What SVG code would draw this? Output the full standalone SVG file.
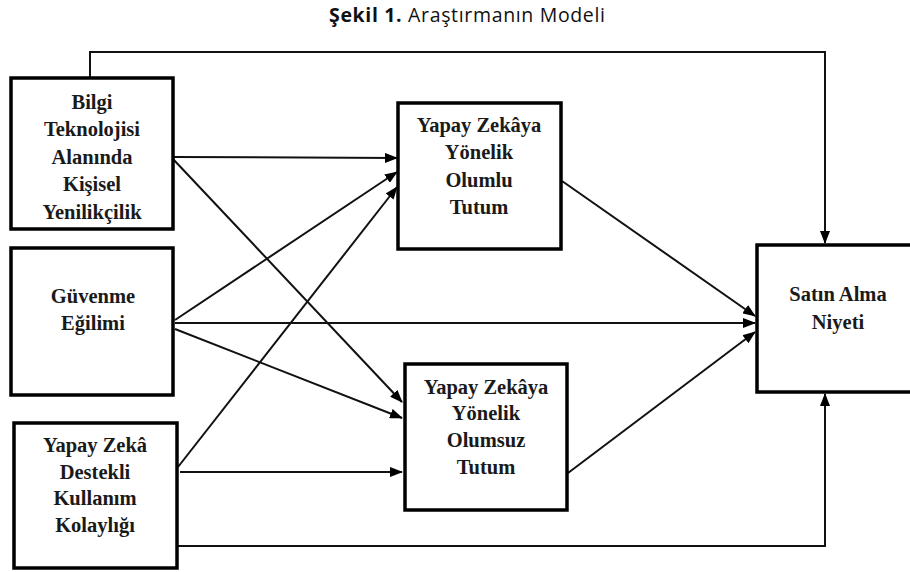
<svg xmlns="http://www.w3.org/2000/svg" width="910" height="572" viewBox="0 0 910 572">
<style>
.box{fill:#fff;stroke:#000;stroke-width:3.5}
.lbl{font-family:"Liberation Serif","Times New Roman",serif;font-weight:bold;font-size:20.5px;fill:#1a1a1a;text-anchor:middle}
.ln{fill:none;stroke:#111;stroke-width:2}
.title{font-family:"Open Sans","Liberation Sans",sans-serif;font-size:19.5px;fill:#111;text-anchor:middle}
</style>
<defs>
<marker id="ah" markerUnits="userSpaceOnUse" markerWidth="13" markerHeight="10" refX="12" refY="5" orient="auto">
<path d="M0,0 L13,5 L0,10 z" fill="#000"/>
</marker>
</defs>
<rect width="910" height="572" fill="#fff"/>
<text class="title" x="467" y="22" textLength="276"><tspan font-weight="bold">Şekil 1.</tspan> Araştırmanın Modeli</text>

<g id="connectors">
<polyline class="ln" points="90,78 90,52 825,52 825,243" marker-end="url(#ah)"/>
<polyline class="ln" points="177,546 825,546 825,394" marker-end="url(#ah)"/>
<line class="ln" x1="173" y1="157" x2="397" y2="158" marker-end="url(#ah)"/>
<line class="ln" x1="173" y1="159" x2="402" y2="402" marker-end="url(#ah)"/>
<line class="ln" x1="175" y1="320" x2="397" y2="172" marker-end="url(#ah)"/>
<line class="ln" x1="178" y1="467" x2="397" y2="187" marker-end="url(#ah)"/>
<line class="ln" x1="175" y1="323" x2="755" y2="323" marker-end="url(#ah)"/>
<line class="ln" x1="175" y1="329" x2="402" y2="418" marker-end="url(#ah)"/>
<line class="ln" x1="180" y1="472" x2="402" y2="472" marker-end="url(#ah)"/>
<line class="ln" x1="562" y1="181" x2="755" y2="316" marker-end="url(#ah)"/>
<line class="ln" x1="568" y1="473" x2="755" y2="332" marker-end="url(#ah)"/>
</g>

<g id="n_bilgi">
<rect class="box" x="11" y="78" width="162" height="151"/>
<text class="lbl" x="92" y="109">Bilgi</text>
<text class="lbl" x="92" y="136">Teknolojisi</text>
<text class="lbl" x="92" y="164">Alanında</text>
<text class="lbl" x="92" y="191">Kişisel</text>
<text class="lbl" x="92" y="219">Yenilikçilik</text>
</g>

<g id="n_guvenme">
<rect class="box" x="11" y="248" width="162" height="147"/>
<text class="lbl" x="93" y="303">Güvenme</text>
<text class="lbl" x="93" y="330">Eğilimi</text>
</g>

<g id="n_kolaylik">
<rect class="box" x="14" y="423" width="163" height="145"/>
<text class="lbl" x="95" y="452">Yapay Zekâ</text>
<text class="lbl" x="95" y="479">Destekli</text>
<text class="lbl" x="95" y="505">Kullanım</text>
<text class="lbl" x="95" y="532">Kolaylığı</text>
</g>

<g id="n_olumlu">
<rect class="box" x="398" y="103" width="163" height="146"/>
<text class="lbl" x="479" y="132">Yapay Zekâya</text>
<text class="lbl" x="479" y="159">Yönelik</text>
<text class="lbl" x="479" y="187">Olumlu</text>
<text class="lbl" x="479" y="214">Tutum</text>
</g>

<g id="n_olumsuz">
<rect class="box" x="405" y="364" width="162" height="146"/>
<text class="lbl" x="486" y="394">Yapay Zekâya</text>
<text class="lbl" x="486" y="420">Yönelik</text>
<text class="lbl" x="486" y="447">Olumsuz</text>
<text class="lbl" x="486" y="474">Tutum</text>
</g>

<g id="n_satin">
<rect class="box" x="757" y="245" width="160" height="147"/>
<text class="lbl" x="838" y="301">Satın Alma</text>
<text class="lbl" x="838" y="329">Niyeti</text>
</g>
</svg>
